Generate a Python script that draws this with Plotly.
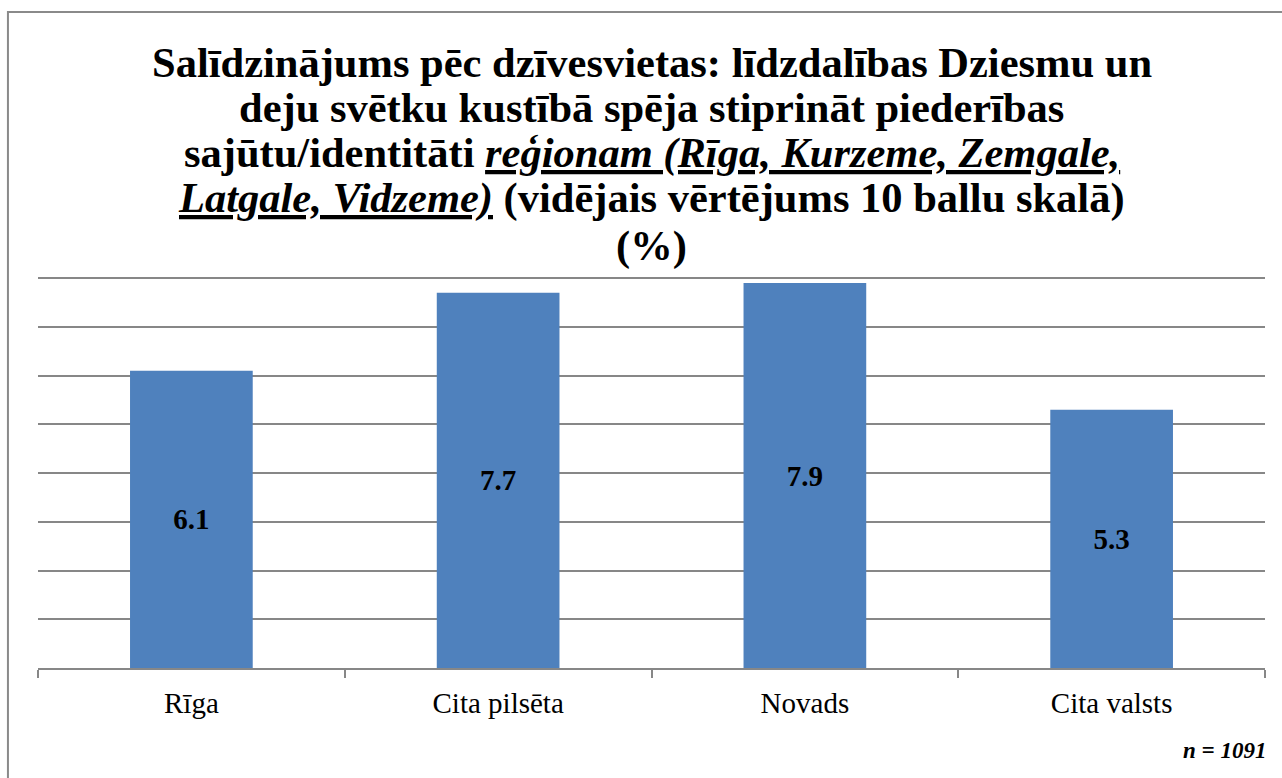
import plotly.graph_objects as go

# Average rating (10-point scale) by place of residence
categories = ["Rīga", "Cita pilsēta", "Novads", "Cita valsts"]
values = [6.1, 7.7, 7.9, 5.3]
value_labels = ["6.1", "7.7", "7.9", "5.3"]
sample_note = "n = 1091"

title_lines = [
    "Salīdzinājums pēc dzīvesvietas: līdzdalības Dziesmu un",
    "deju svētku kustībā spēja stiprināt piederības",
    "sajūtu/identitāti <u><i>reģionam (Rīga, Kurzeme, Zemgale,</i></u>",
    "<u><i>Latgale, Vidzeme)</i></u> (vidējais vērtējums 10 ballu skalā)",
    "(%)",
]

SERIF = "Liberation Serif"
GRID = "#878787"

# plot area geometry (px) used to place the title lines
PLOT_TOP, PLOT_BOTTOM = 229, 668
title_centers_px = [63, 108, 153, 198, 246]

fig = go.Figure(
    go.Bar(
        x=categories,
        y=values,
        text=value_labels,
        textposition="inside",
        insidetextanchor="middle",
        textfont=dict(family=SERIF, size=29, color="black", weight="bold"),
        marker=dict(color="#4F81BD", line=dict(width=0)),
        hoverinfo="x+y",
    )
)

fig.update_layout(
    width=1282,
    height=778,
    margin=dict(l=38, r=17, t=PLOT_TOP, b=778 - PLOT_BOTTOM),
    paper_bgcolor="white",
    plot_bgcolor="white",
    bargap=0.6,
    showlegend=False,
    font=dict(family=SERIF, color="black"),
)

fig.update_xaxes(
    type="category",
    showline=True,
    linecolor=GRID,
    linewidth=2,
    ticks="outside",
    tickson="boundaries",
    ticklen=8,
    tickwidth=2,
    tickcolor=GRID,
    showgrid=False,
    ticklabelstandoff=8,
    tickfont=dict(family=SERIF, size=29, color="black"),
)

fig.update_yaxes(
    range=[0, 9.01],
    dtick=1,
    showticklabels=False,
    showgrid=True,
    gridcolor=GRID,
    gridwidth=1.6,
    zeroline=False,
    showline=False,
)

# Outer chart frame
fig.add_shape(
    type="rect",
    xref="paper", yref="paper",
    x0=-0.0245, x1=1.2, y0=-0.6, y1=1.4943,
    line=dict(color="#8a8a8a", width=2),
    fillcolor="rgba(0,0,0,0)",
    layer="above",
)

# Title, one annotation per line for tight line spacing
plot_h = PLOT_BOTTOM - PLOT_TOP
for line, cy in zip(title_lines, title_centers_px):
    fig.add_annotation(
        text=line,
        xref="paper", yref="paper",
        x=0.5, y=(PLOT_BOTTOM - cy) / plot_h,
        xanchor="center", yanchor="middle",
        showarrow=False,
        font=dict(family=SERIF, size=42.5, color="black", weight="bold"),
    )

fig.add_annotation(
    text="<i>" + sample_note + "</i>",
    xref="paper", yref="paper",
    x=1.0024, y=-0.187,
    xanchor="right", yanchor="middle",
    showarrow=False,
    font=dict(family=SERIF, size=23, color="black", weight="bold"),
)

fig.write_html("out.html")
